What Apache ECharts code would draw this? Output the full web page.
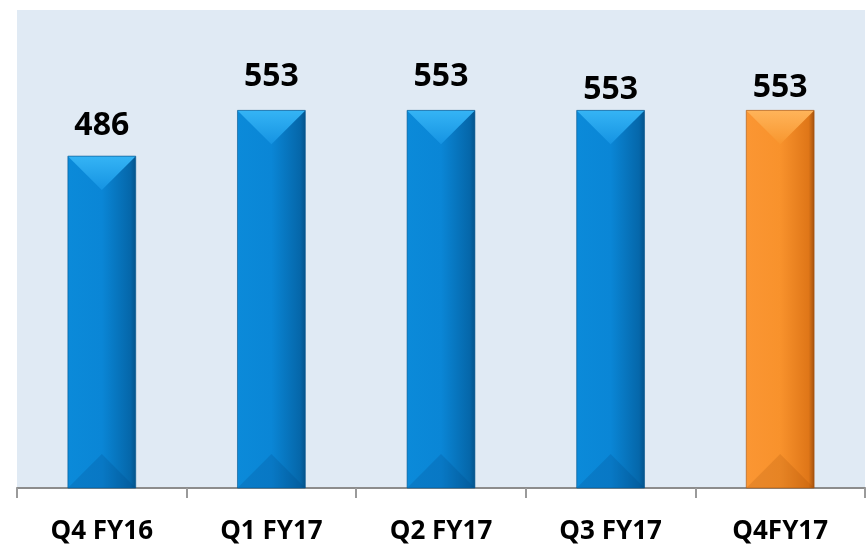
<!DOCTYPE html>
<html>
<head>
<meta charset="utf-8">
<script src="https://cdn.jsdelivr.net/npm/echarts@6/dist/echarts.min.js"></script>
<style>
  html, body { margin: 0; padding: 0; background: #fff; }
  #chart { width: 866px; height: 545px; }
</style>
</head>
<body>
<div id="chart"></div>
<script>
var categories = ['Q4 FY16', 'Q1 FY17', 'Q2 FY17', 'Q3 FY17', 'Q4FY17'];
var values = [486, 553, 553, 553, 553];
// last quarter is highlighted in orange
var highlight = [false, false, false, false, true];
// labels don't sit at the same height in the original
var labelGap = [30, 33, 33, 20, 22];

var palettes = {
  blue: { left: '#0b8ad9', mid: '#0a86d6', right: '#0567aa', edge: '#04548c', topA: '#35b4f5', topB: '#1593e2', bot: 'rgba(0,60,120,0.18)' },
  orange: { left: '#fb9633', mid: '#f8922c', right: '#df7618', edge: '#a5530e', topA: '#ffb45a', topB: '#f8962e', bot: 'rgba(140,60,0,0.16)' }
};

function renderBar(params, api) {
  var i = api.value(0);
  var v = api.value(1);
  var top = api.coord([i, v]);
  var bot = api.coord([i, 0]);
  var w = api.size([1, 0])[0] * 0.4;
  var cx = top[0], l = cx - w / 2, r = cx + w / 2, t = top[1], b = bot[1];
  var d = w / 2;
  var p = highlight[i] ? palettes.orange : palettes.blue;
  return {
    type: 'group',
    children: [
      {
        type: 'rect',
        shape: { x: l, y: t, width: w, height: b - t },
        style: {
          fill: new echarts.graphic.LinearGradient(0, 0, 1, 0, [
            { offset: 0, color: p.left },
            { offset: 0.5, color: p.mid },
            { offset: 0.92, color: p.right },
            { offset: 1, color: p.edge }
          ])
        }
      },
      {
        type: 'polygon',
        shape: { points: [[l, t], [r, t], [cx, t + d]] },
        style: {
          fill: new echarts.graphic.LinearGradient(0, 0, 0, 1, [
            { offset: 0, color: p.topA },
            { offset: 1, color: p.topB }
          ])
        }
      },
      {
        type: 'polygon',
        shape: { points: [[l, b], [r, b], [cx, b - d]] },
        style: { fill: p.bot }
      },
      {
        type: 'rect',
        shape: { x: l, y: t, width: w, height: b - t },
        style: { fill: null, stroke: p.edge, lineWidth: 1, opacity: 0.6 }
      },
      {
        type: 'text',
        style: {
          text: String(v),
          x: cx,
          y: t - labelGap[i],
          align: 'center',
          verticalAlign: 'middle',
          font: 'bold 32px "Open Sans"',
          fill: '#000'
        }
      }
    ]
  };
}

var chart = echarts.init(document.getElementById('chart'));
chart.setOption({
  animation: false,
  grid: {
    left: 17, right: 1, top: 10, bottom: 55,
    show: true, backgroundColor: '#e0eaf4', borderWidth: 0
  },
  xAxis: {
    type: 'category',
    data: categories,
    axisLine: { lineStyle: { color: '#8c8c8c', width: 2 } },
    axisTick: { show: true, length: 10, lineStyle: { color: '#9a9a9a', width: 2 } },
    axisLabel: {
      color: '#000', fontFamily: 'Open Sans', fontWeight: 'bold', fontSize: 26, margin: 31
    }
  },
  yAxis: {
    type: 'value', min: 0, max: 700, show: false, splitLine: { show: false }
  },
  series: [{
    type: 'custom',
    renderItem: renderBar,
    data: values.map(function (v, i) { return [i, v]; }),
    encode: { x: 0, y: 1 }
  }]
});
</script>
</body>
</html>
